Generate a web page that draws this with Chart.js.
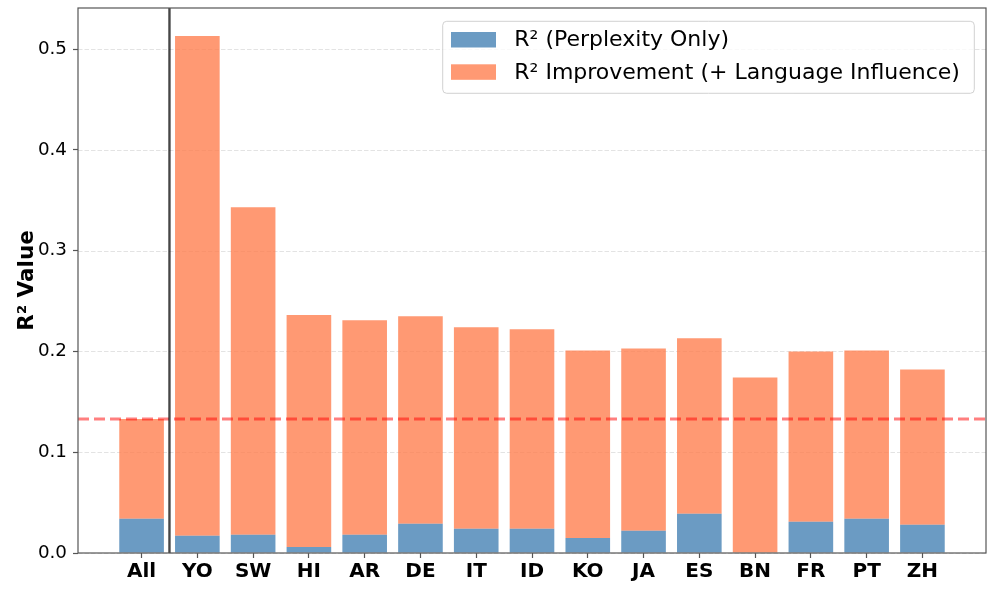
<!DOCTYPE html>
<html>
<head>
<meta charset="utf-8">
<script src="https://cdn.jsdelivr.net/npm/chart.js@4"></script>
<style>
  html, body { margin: 0; padding: 0; background: #ffffff; }
  #wrap { width: 996px; height: 593px; position: relative; }
</style>
</head>
<body>
<div id="wrap"><canvas id="c" width="996" height="593"></canvas></div>
<script>
// ---- data ----
const categories = ['All','YO','SW','HI','AR','DE','IT','ID','KO','JA','ES','BN','FR','PT','ZH'];
const r2Perplexity = [0.034,0.017,0.018,0.006,0.018,0.029,0.024,0.024,0.015,0.022,0.039,0.000,0.031,0.034,0.028];
const r2Improvement = [0.099,0.496,0.325,0.230,0.213,0.206,0.200,0.198,0.186,0.181,0.174,0.174,0.169,0.167,0.154];
const yTicks = [0.0,0.1,0.2,0.3,0.4,0.5];
const referenceR2 = 0.133;      // dashed red line (All total)
const separatorAt = 0.5;        // vertical separator between All and languages
const legendLabels = ['R\u00B2 (Perplexity Only)', 'R\u00B2 Improvement (+ Language Influence)'];

const BLUE = 'rgba(70,130,180,0.8)';
const ORANGE = 'rgba(255,127,80,0.8)';
const FONT = "'DejaVu Sans', 'Liberation Sans', sans-serif";

const overlay = {
  id: 'overlay',
  beforeDatasetsDraw(chart) {
    const {ctx, chartArea: a, scales: {y}} = chart;
    ctx.save();
    ctx.strokeStyle = 'rgba(176,176,176,0.35)';
    ctx.lineWidth = 1;
    ctx.setLineDash([4.5, 2]);
    yTicks.forEach(v => {
      const py = Math.round(y.getPixelForValue(v)) + 0.5;
      ctx.beginPath(); ctx.moveTo(a.left, py); ctx.lineTo(a.right, py); ctx.stroke();
    });
    ctx.restore();
  },
  afterDatasetsDraw(chart) {
    const {ctx, chartArea: a, scales: {x, y}} = chart;
    ctx.save();
    // reference line
    ctx.strokeStyle = 'rgba(255,0,0,0.5)';
    ctx.lineWidth = 3;
    ctx.setLineDash([11, 5]);
    const ry = y.getPixelForValue(referenceR2);
    ctx.beginPath(); ctx.moveTo(a.left, ry); ctx.lineTo(a.right, ry); ctx.stroke();
    // separator
    ctx.setLineDash([]);
    ctx.strokeStyle = 'rgba(0,0,0,0.72)';
    ctx.lineWidth = 2.4;
    const sx = x.getPixelForValue(separatorAt);
    ctx.beginPath(); ctx.moveTo(sx, a.top); ctx.lineTo(sx, a.bottom); ctx.stroke();
    // frame
    ctx.strokeStyle = '#555555';
    ctx.lineWidth = 1.2;
    ctx.strokeRect(a.left, a.top, a.right - a.left, a.bottom - a.top);
    // legend
    const bx = a.left + 364.7, by = a.top + 13.3, bw = 531.6, bh = 72, r = 4;
    ctx.beginPath();
    ctx.moveTo(bx + r, by);
    ctx.arcTo(bx + bw, by, bx + bw, by + bh, r);
    ctx.arcTo(bx + bw, by + bh, bx, by + bh, r);
    ctx.arcTo(bx, by + bh, bx, by, r);
    ctx.arcTo(bx, by, bx + bw, by, r);
    ctx.closePath();
    ctx.fillStyle = 'rgba(255,255,255,0.8)';
    ctx.fill();
    ctx.strokeStyle = 'rgba(204,204,204,0.9)';
    ctx.lineWidth = 1;
    ctx.stroke();
    const colors = [BLUE, ORANGE];
    ctx.font = '22px ' + FONT;
    ctx.textBaseline = 'middle';
    ctx.textAlign = 'left';
    legendLabels.forEach((t, i) => {
      const cy = by + 18.4 + i * 32.3;
      ctx.fillStyle = colors[i];
      ctx.fillRect(bx + 8.3, cy - 7.7, 45, 15.5);
      ctx.fillStyle = '#000000';
      ctx.fillText(t, bx + 71.6, cy + 1);
    });
    ctx.restore();
  }
};

const mk = (vals) => vals.map((v, i) => ({x: i, y: v}));

new Chart(document.getElementById('c'), {
  type: 'bar',
  data: {
    datasets: [
      { label: legendLabels[0], data: mk(r2Perplexity), backgroundColor: BLUE, borderWidth: 0 },
      { label: legendLabels[1], data: mk(r2Improvement), backgroundColor: ORANGE, borderWidth: 0 }
    ]
  },
  options: {
    responsive: false,
    animation: false,
    devicePixelRatio: 1,
    layout: { padding: { left: 0, right: 10, top: 8, bottom: 0 } },
    datasets: { bar: { barPercentage: 0.8, categoryPercentage: 1.0 } },
    plugins: { legend: { display: false }, tooltip: { enabled: false } },
    scales: {
      x: {
        type: 'linear', stacked: true, min: -1.14, max: 15.14, offset: false,
        afterBuildTicks: s => { s.ticks = categories.map((c, i) => ({value: i})); },
        afterFit: s => { s.height = 40; s.paddingLeft = 0; s.paddingRight = 0; },
        grid: { offset: false, drawOnChartArea: false, drawTicks: true, tickLength: 5, tickColor: '#555555', tickWidth: 1.2 },
        border: { display: false },
        ticks: {
          autoSkip: false, maxRotation: 0, padding: 2, color: '#000000',
          font: { family: FONT, size: 20, weight: 'bold' },
          callback: v => categories[v] ?? ''
        }
      },
      y: {
        stacked: true, min: 0, max: 0.5407,
        afterBuildTicks: s => { s.ticks = yTicks.map(v => ({value: v})); },
        afterFit: s => { s.width = 78; s.paddingTop = 0; s.paddingBottom = 0; },
        grid: { drawOnChartArea: false, drawTicks: true, tickLength: 5, tickColor: '#555555', tickWidth: 1.2 },
        border: { display: false },
        ticks: {
          padding: 6, color: '#000000',
          font: { family: FONT, size: 18.3 },
          callback: v => Number(v).toFixed(1)
        },
        title: {
          display: true, text: 'R\u00B2 Value', color: '#000000',
          font: { family: FONT, size: 21.5, weight: 'bold' },
          padding: { top: 15, bottom: 0 }
        }
      }
    }
  },
  plugins: [overlay]
});
</script>
</body>
</html>
